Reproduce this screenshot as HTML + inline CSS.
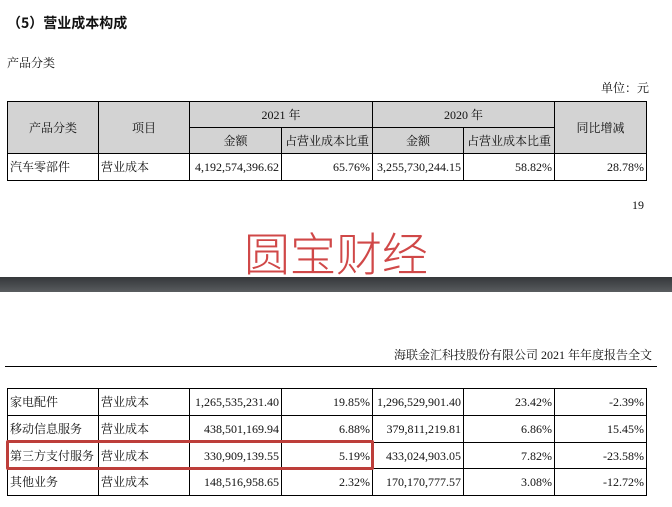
<!DOCTYPE html>
<html>
<head>
<meta charset="utf-8">
<style>
html,body{margin:0;padding:0;background:#fff;}
body{width:672px;height:507px;position:relative;overflow:hidden;font-family:"Liberation Serif","Noto Serif CJK SC","Noto Serif CJK JP",serif;color:#111;}
.t{position:absolute;white-space:nowrap;line-height:1;}
.c{position:absolute;box-sizing:border-box;border:1px solid #000;display:flex;align-items:center;font-size:12px;line-height:1;white-space:nowrap;overflow:hidden;}
.g{background:#d3d3d3;justify-content:center;}
.l{justify-content:flex-start;padding-left:2px;}
.r{justify-content:flex-end;padding-right:2px;}
</style>
</head>
<body>
<div class="t" style="left:7px;top:16px;font-size:14px;font-weight:bold;font-family:'Noto Sans CJK SC',sans-serif;">（5）营业成本构成</div>
<div class="t" style="left:7px;top:57px;font-size:12px;">产品分类</div>
<div class="t" style="right:23px;top:82px;font-size:12px;">单位：元</div>

<!-- top table -->
<div class="c g" style="left:7px;top:101px;width:92px;height:53px;">产品分类</div>
<div class="c g" style="left:98px;top:101px;width:92px;height:53px;">项目</div>
<div class="c g" style="left:189px;top:101px;width:184px;height:27px;">2021 年</div>
<div class="c g" style="left:372px;top:101px;width:183px;height:27px;">2020 年</div>
<div class="c g" style="left:554px;top:101px;width:93px;height:53px;">同比增减</div>
<div class="c g" style="left:189px;top:127px;width:93px;height:27px;">金额</div>
<div class="c g" style="left:281px;top:127px;width:92px;height:27px;">占营业成本比重</div>
<div class="c g" style="left:372px;top:127px;width:92px;height:27px;">金额</div>
<div class="c g" style="left:463px;top:127px;width:92px;height:27px;">占营业成本比重</div>

<div class="c l" style="left:7px;top:153px;width:92px;height:28px;">汽车零部件</div>
<div class="c l" style="left:98px;top:153px;width:92px;height:28px;">营业成本</div>
<div class="c r" style="left:189px;top:153px;width:93px;height:28px;">4,192,574,396.62</div>
<div class="c r" style="left:281px;top:153px;width:92px;height:28px;">65.76%</div>
<div class="c r" style="left:372px;top:153px;width:92px;height:28px;">3,255,730,244.15</div>
<div class="c r" style="left:463px;top:153px;width:92px;height:28px;">58.82%</div>
<div class="c r" style="left:554px;top:153px;width:93px;height:28px;">28.78%</div>

<div class="t" style="left:632px;top:199px;font-size:12px;">19</div>

<div class="t" style="left:244px;top:229px;font-size:46px;color:#d04848;font-weight:300;font-family:'Noto Sans CJK SC',sans-serif;">圆宝财经</div>

<div style="position:absolute;left:0;top:277px;width:672px;height:15px;background:linear-gradient(to bottom,#35383b,#4a4d50 60%,#5a5d60);"></div>

<div class="t" style="right:20px;top:349px;font-size:12px;">海联金汇科技股份有限公司 2021 年年度报告全文</div>
<div style="position:absolute;left:5px;top:366px;width:652px;height:1px;background:#000;"></div>

<!-- bottom table -->
<div class="c l" style="left:7px;top:388px;width:92px;height:28px;">家电配件</div>
<div class="c l" style="left:98px;top:388px;width:92px;height:28px;">营业成本</div>
<div class="c r" style="left:189px;top:388px;width:93px;height:28px;">1,265,535,231.40</div>
<div class="c r" style="left:281px;top:388px;width:92px;height:28px;">19.85%</div>
<div class="c r" style="left:372px;top:388px;width:92px;height:28px;">1,296,529,901.40</div>
<div class="c r" style="left:463px;top:388px;width:92px;height:28px;">23.42%</div>
<div class="c r" style="left:554px;top:388px;width:93px;height:28px;">-2.39%</div>

<div class="c l" style="left:7px;top:415px;width:92px;height:28px;">移动信息服务</div>
<div class="c l" style="left:98px;top:415px;width:92px;height:28px;">营业成本</div>
<div class="c r" style="left:189px;top:415px;width:93px;height:28px;">438,501,169.94</div>
<div class="c r" style="left:281px;top:415px;width:92px;height:28px;">6.88%</div>
<div class="c r" style="left:372px;top:415px;width:92px;height:28px;">379,811,219.81</div>
<div class="c r" style="left:463px;top:415px;width:92px;height:28px;">6.86%</div>
<div class="c r" style="left:554px;top:415px;width:93px;height:28px;">15.45%</div>

<div class="c l" style="left:7px;top:442px;width:92px;height:27px;">第三方支付服务</div>
<div class="c l" style="left:98px;top:442px;width:92px;height:27px;">营业成本</div>
<div class="c r" style="left:189px;top:442px;width:93px;height:27px;">330,909,139.55</div>
<div class="c r" style="left:281px;top:442px;width:92px;height:27px;">5.19%</div>
<div class="c r" style="left:372px;top:442px;width:92px;height:27px;">433,024,903.05</div>
<div class="c r" style="left:463px;top:442px;width:92px;height:27px;">7.82%</div>
<div class="c r" style="left:554px;top:442px;width:93px;height:27px;">-23.58%</div>

<div class="c l" style="left:7px;top:468px;width:92px;height:28px;">其他业务</div>
<div class="c l" style="left:98px;top:468px;width:92px;height:28px;">营业成本</div>
<div class="c r" style="left:189px;top:468px;width:93px;height:28px;">148,516,958.65</div>
<div class="c r" style="left:281px;top:468px;width:92px;height:28px;">2.32%</div>
<div class="c r" style="left:372px;top:468px;width:92px;height:28px;">170,170,777.57</div>
<div class="c r" style="left:463px;top:468px;width:92px;height:28px;">3.08%</div>
<div class="c r" style="left:554px;top:468px;width:93px;height:28px;">-12.72%</div>

<!-- red highlight -->
<div style="position:absolute;left:6px;top:440px;width:368px;height:30px;box-sizing:border-box;border:3px solid #bd3e3a;border-radius:2px;"></div>
</body>
</html>
